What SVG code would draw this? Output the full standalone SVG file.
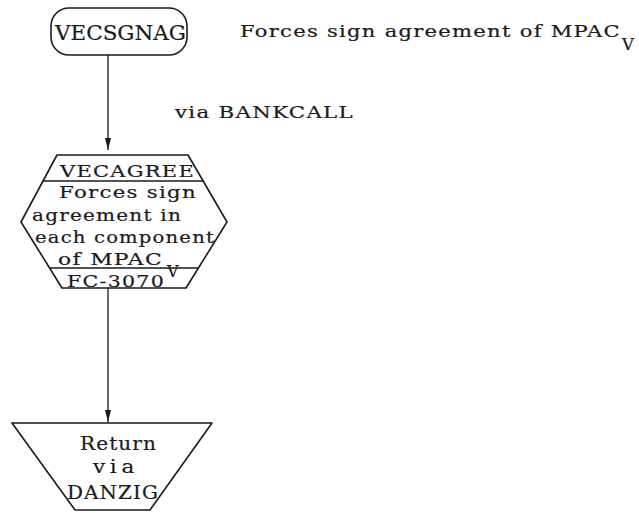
<svg xmlns="http://www.w3.org/2000/svg" width="639" height="513" viewBox="0 0 639 513">
  <style>
    .shape { fill: none; stroke: #1a1a1a; stroke-width: 1.6; stroke-linejoin: round; }
    .conn { fill: none; stroke: #1a1a1a; stroke-width: 1.3; }
    .t { font-family: "DejaVu Serif", "Liberation Serif", serif; fill: #1a1a1a; stroke: #1a1a1a; stroke-width: 0.2; }
  </style>
  <defs>
    <marker id="arrowDown" markerUnits="userSpaceOnUse" markerWidth="8" markerHeight="14" viewBox="-4 -13 8 14" refX="0" refY="0" orient="0">
      <path d="M-3,-12 L3,-12 L0,0 Z" fill="#1a1a1a"/>
    </marker>
  </defs>

  <rect width="639" height="513" fill="#ffffff"/>

  <!-- entry terminal -->
  <g id="vecsgnag">
    <rect class="shape" x="51" y="8" width="136" height="47" rx="18" ry="18"/>
    <text class="t" x="55" y="40" font-size="20.5" textLength="131" lengthAdjust="spacingAndGlyphs">VECSGNAG</text>
  </g>

  <!-- annotations -->
  <g id="note-purpose">
    <text class="t" x="240" y="37" font-size="16.5" letter-spacing="1" textLength="381" lengthAdjust="spacingAndGlyphs">Forces sign agreement of MPAC</text>
    <text class="t" x="622" y="50" font-size="16.5">V</text>
  </g>
  <g id="note-call">
    <text class="t" x="175" y="118" font-size="16.5" letter-spacing="1" textLength="179" lengthAdjust="spacingAndGlyphs">via BANKCALL</text>
  </g>

  <!-- subroutine hexagon -->
  <g id="vecagree">
    <polygon class="shape" points="57,155 188,155 227,222 186,288 62,288 21,222"/>
    <line class="shape" x1="43" y1="181" x2="203" y2="181"/>
    <line class="shape" x1="50" y1="268" x2="198" y2="268"/>
    <text class="t" x="60" y="177" font-size="16.5" letter-spacing="1" textLength="135" lengthAdjust="spacingAndGlyphs">VECAGREE</text>
    <text class="t" x="59" y="198" font-size="16.5" letter-spacing="1" textLength="138" lengthAdjust="spacingAndGlyphs">Forces sign</text>
    <text class="t" x="32" y="221" font-size="16.5" letter-spacing="1" textLength="150" lengthAdjust="spacingAndGlyphs">agreement in</text>
    <text class="t" x="35" y="243" font-size="16.5" letter-spacing="1" textLength="180" lengthAdjust="spacingAndGlyphs">each component</text>
    <text class="t" x="58" y="265" font-size="16.5" letter-spacing="1" textLength="105" lengthAdjust="spacingAndGlyphs">of MPAC</text>
    <text class="t" x="167" y="277" font-size="16">V</text>
    <text class="t" x="67" y="287" font-size="16.5" letter-spacing="1" textLength="98" lengthAdjust="spacingAndGlyphs">FC-3070</text>
  </g>

  <!-- exit trapezoid -->
  <g id="return">
    <polygon class="shape" points="12,423 212,423 150,510 75,510"/>
    <text class="t" x="80" y="450" font-size="18.5" letter-spacing="1" textLength="77" lengthAdjust="spacingAndGlyphs">Return</text>
    <text class="t" x="93" y="473" font-size="18.5" letter-spacing="4" textLength="46" lengthAdjust="spacingAndGlyphs">via</text>
    <text class="t" x="67" y="499" font-size="18.5" letter-spacing="1" textLength="92" lengthAdjust="spacingAndGlyphs">DANZIG</text>
  </g>

  <!-- flow connectors -->
  <g id="connectors">
    <line class="conn" x1="108" y1="55" x2="108" y2="150" marker-end="url(#arrowDown)"/>
    <line class="conn" x1="108" y1="288" x2="108" y2="422" marker-end="url(#arrowDown)"/>
  </g>
</svg>
